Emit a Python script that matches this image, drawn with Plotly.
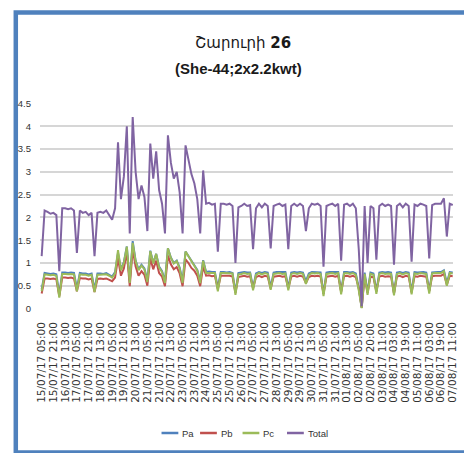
import datetime as dt
import plotly.graph_objects as go

# ---- data -------------------------------------------------------------
tick_labels = [
    "15/07/17 05:00", "15/07/17 21:00", "16/07/17 13:00", "17/07/17 05:00",
    "17/07/17 21:00", "18/07/17 13:00", "19/07/17 05:00", "19/07/17 21:00",
    "20/07/17 13:00", "21/07/17 05:00", "21/07/17 21:00", "22/07/17 13:00",
    "23/07/17 05:00", "23/07/17 21:00", "24/07/17 13:00", "25/07/17 05:00",
    "25/07/17 21:00", "26/07/17 13:00", "27/07/17 05:00", "27/07/17 21:00",
    "28/07/17 13:00", "29/07/17 05:00", "29/07/17 21:00", "30/07/17 13:00",
    "31/07/17 05:00", "31/07/17 21:00", "01/08/17 13:00", "02/08/17 05:00",
    "02/08/17 20:00", "03/08/17 11:00", "04/08/17 03:00", "04/08/17 19:00",
    "05/08/17 11:00", "06/08/17 03:00", "06/08/17 19:00", "07/08/17 11:00",
]

total = [
    1.15, 2.15, 2.12, 2.08, 2.10, 2.05, 0.82, 2.20, 2.20, 2.18,
    2.20, 2.15, 1.22, 2.15, 2.10, 2.12, 2.05, 2.10, 1.15, 2.10,
    2.12, 2.10, 2.15, 2.05, 1.95, 2.20, 3.65, 2.40, 2.90, 4.00,
    1.65, 4.20, 3.00, 2.40, 2.70, 2.45, 1.70, 3.62, 2.85, 3.45,
    2.60, 2.30, 1.65, 3.80, 3.20, 2.85, 3.00, 2.55, 1.65, 3.58,
    3.30, 2.95, 2.75, 2.40, 1.65, 3.03, 2.30, 2.32, 2.28, 2.30,
    1.25, 2.30, 2.30, 2.28, 2.30, 2.25, 1.00, 2.22, 2.25, 2.30,
    2.25, 2.27, 1.30, 2.20, 2.30, 2.22, 2.30, 2.25, 1.32, 2.25,
    2.28, 2.30, 2.25, 2.28, 1.30, 2.25, 2.30, 2.25, 2.30, 2.25,
    1.70, 2.20, 2.30, 2.28, 2.30, 2.25, 0.92, 2.25, 2.28, 2.30,
    2.25, 2.30, 1.05, 2.28, 2.30, 2.25, 2.30, 2.20, 1.30, 0.05,
    2.25, 1.00, 2.25, 2.20, 1.07, 2.25, 2.30, 2.25, 2.28, 2.25,
    0.96, 2.25, 2.30, 2.22, 2.30, 2.25, 1.03, 2.28, 2.25, 2.30,
    2.28, 2.25, 1.10, 2.27, 2.30, 2.30, 2.30, 2.42, 1.58, 2.30,
    2.27,
]

pa = [
    0.42, 0.78, 0.77, 0.76, 0.77, 0.75, 0.31, 0.79, 0.79, 0.78,
    0.79, 0.78, 0.44, 0.78, 0.77, 0.77, 0.75, 0.77, 0.42, 0.77,
    0.77, 0.76, 0.78, 0.74, 0.70, 0.80, 1.22, 0.86, 1.02, 1.36,
    0.60, 1.48, 1.05, 0.86, 0.96, 0.88, 0.62, 1.27, 1.00, 1.20,
    0.92, 0.82, 0.60, 1.32, 1.12, 1.00, 1.05, 0.90, 0.60, 1.25,
    1.15, 1.04, 0.97, 0.85, 0.60, 1.06, 0.80, 0.81, 0.80, 0.80,
    0.45, 0.80, 0.80, 0.79, 0.80, 0.78, 0.36, 0.78, 0.79, 0.80,
    0.79, 0.79, 0.46, 0.77, 0.80, 0.78, 0.80, 0.79, 0.47, 0.79,
    0.80, 0.80, 0.79, 0.80, 0.46, 0.79, 0.80, 0.79, 0.80, 0.79,
    0.60, 0.77, 0.80, 0.80, 0.80, 0.79, 0.33, 0.79, 0.80, 0.80,
    0.79, 0.80, 0.38, 0.80, 0.80, 0.79, 0.80, 0.77, 0.46, 0.02,
    0.79, 0.36, 0.79, 0.77, 0.38, 0.79, 0.80, 0.79, 0.80, 0.79,
    0.34, 0.79, 0.80, 0.78, 0.80, 0.79, 0.37, 0.80, 0.79, 0.80,
    0.80, 0.79, 0.39, 0.79, 0.80, 0.80, 0.80, 0.84, 0.56, 0.80,
    0.79,
]

pb = [
    0.33, 0.66, 0.66, 0.65, 0.66, 0.64, 0.27, 0.68, 0.68, 0.67,
    0.68, 0.66, 0.38, 0.67, 0.66, 0.66, 0.64, 0.66, 0.36, 0.65,
    0.66, 0.65, 0.66, 0.63, 0.60, 0.68, 1.10, 0.72, 0.88, 1.24,
    0.49, 1.30, 0.92, 0.72, 0.82, 0.74, 0.50, 1.10, 0.86, 1.05,
    0.78, 0.70, 0.49, 1.16, 0.97, 0.86, 0.91, 0.77, 0.49, 1.08,
    1.00, 0.89, 0.83, 0.72, 0.49, 0.92, 0.72, 0.73, 0.71, 0.72,
    0.42, 0.72, 0.72, 0.71, 0.72, 0.70, 0.34, 0.69, 0.70, 0.72,
    0.70, 0.71, 0.44, 0.69, 0.72, 0.69, 0.72, 0.70, 0.44, 0.70,
    0.71, 0.72, 0.70, 0.71, 0.44, 0.70, 0.72, 0.70, 0.72, 0.70,
    0.56, 0.69, 0.72, 0.71, 0.72, 0.70, 0.32, 0.70, 0.71, 0.72,
    0.70, 0.72, 0.36, 0.71, 0.72, 0.70, 0.72, 0.69, 0.44, 0.02,
    0.70, 0.34, 0.70, 0.69, 0.37, 0.70, 0.72, 0.70, 0.71, 0.70,
    0.33, 0.70, 0.72, 0.69, 0.72, 0.70, 0.35, 0.71, 0.70, 0.72,
    0.71, 0.70, 0.38, 0.71, 0.72, 0.72, 0.72, 0.76, 0.52, 0.72,
    0.71,
]

pc = [
    0.38, 0.75, 0.74, 0.73, 0.74, 0.72, 0.24, 0.76, 0.76, 0.75,
    0.76, 0.75, 0.38, 0.75, 0.74, 0.74, 0.72, 0.74, 0.36, 0.74,
    0.74, 0.74, 0.75, 0.72, 0.68, 0.77, 1.28, 0.84, 1.00, 1.36,
    0.56, 1.44, 1.04, 0.84, 0.94, 0.86, 0.58, 1.26, 0.99, 1.20,
    0.90, 0.80, 0.56, 1.32, 1.11, 0.99, 1.04, 0.88, 0.56, 1.25,
    1.15, 1.02, 0.95, 0.83, 0.56, 1.05, 0.78, 0.78, 0.77, 0.78,
    0.38, 0.78, 0.78, 0.78, 0.78, 0.77, 0.30, 0.75, 0.76, 0.78,
    0.76, 0.77, 0.40, 0.74, 0.78, 0.75, 0.78, 0.76, 0.41, 0.76,
    0.77, 0.78, 0.76, 0.77, 0.40, 0.76, 0.78, 0.76, 0.78, 0.76,
    0.54, 0.74, 0.78, 0.77, 0.78, 0.76, 0.27, 0.76, 0.77, 0.78,
    0.76, 0.78, 0.31, 0.77, 0.78, 0.76, 0.78, 0.74, 0.40, 0.01,
    0.76, 0.30, 0.76, 0.74, 0.32, 0.76, 0.78, 0.76, 0.77, 0.76,
    0.29, 0.76, 0.78, 0.75, 0.78, 0.76, 0.31, 0.77, 0.76, 0.78,
    0.77, 0.76, 0.33, 0.77, 0.78, 0.78, 0.78, 0.82, 0.50, 0.78,
    0.77,
]

series_names = ["Pa", "Pb", "Pc", "Total"]
series_colors = ["#4F81BD", "#C0504D", "#9BBB59", "#8064A2"]

# ---- categories: 4 samples between consecutive tick labels -------------
fmt = "%d/%m/%y %H:%M"
categories = []
for i in range(len(tick_labels) - 1):
    t0 = dt.datetime.strptime(tick_labels[i], fmt)
    categories.append(tick_labels[i])
    for k in (1, 2, 3):
        categories.append((t0 + dt.timedelta(hours=4 * k)).strftime(fmt) + " ")
categories.append(tick_labels[-1])

# ---- layout geometry (pixels) -----------------------------------------
W, H = 464, 453
L, R, T, B = 40, 6, 103, 144
PW, PH = W - L - R, H - T - B


def xp(px):
    return (px - L) / PW


def yp(py):
    return (H - B - py) / PH


fig = go.Figure()
for name, color, vals in zip(series_names, series_colors, [pa, pb, pc, total]):
    fig.add_trace(go.Scatter(
        x=categories, y=vals, mode="lines", name=name,
        line=dict(color=color, width=2), showlegend=False,
    ))

sans = "Liberation Sans, Arial, sans-serif"

fig.update_layout(
    width=W, height=H,
    margin=dict(l=L, r=R, t=T, b=B, pad=0),
    paper_bgcolor="white", plot_bgcolor="white",
    xaxis=dict(
        type="category", range=[-0.57, 140.1],
        tickmode="array", tickvals=tick_labels, ticktext=tick_labels,
        tickangle=-90, showgrid=False, zeroline=False, showline=False,
        ticks="", ticklabelstandoff=10,
        tickfont=dict(family="DejaVu Sans", size=10.5, color="#333333"),
    ),
    yaxis=dict(
        range=[-0.01, 4.51], tickmode="array",
        tickvals=[0, 0.5, 1, 1.5, 2, 2.5, 3, 3.5, 4, 4.5],
        ticktext=["0", "0.5", "1", "1.5", "2", "2.5", "3", "3.5", "4", "4.5"],
        showgrid=True, gridcolor="#D6D6D6", gridwidth=1.6,
        zeroline=False, showline=False, ticks="", ticklabelstandoff=8,
        tickfont=dict(family=sans, size=9.5, color="#333333"),
    ),
)

# frame
fig.add_shape(type="rect", xref="paper", yref="paper",
              x0=xp(15.5), x1=xp(472), y0=yp(12.5), y1=yp(452.5),
              line=dict(color="#4F81BD", width=4.5), layer="below")

# titles
fig.add_annotation(text="Շարուրի <b>26</b>", xref="paper", yref="paper",
                   x=xp(245), y=yp(43), xanchor="center", yanchor="middle",
                   showarrow=False,
                   font=dict(family="DejaVu Sans", size=15, color="#1a1a1a"))
fig.add_annotation(text="<b>(She-44;2x2.2kwt)</b>", xref="paper", yref="paper",
                   x=xp(241), y=yp(68), xanchor="center", yanchor="middle",
                   showarrow=False,
                   font=dict(family=sans, size=15, color="#1a1a1a"))

# legend (drawn manually to match compact Excel legend)
legend_x = [163, 202, 245, 290]
for name, color, x0 in zip(series_names, series_colors, legend_x):
    fig.add_shape(type="line", xref="paper", yref="paper",
                  x0=xp(x0), x1=xp(x0 + 17), y0=yp(433), y1=yp(433),
                  line=dict(color=color, width=2.5))
    fig.add_annotation(text=name, xref="paper", yref="paper",
                       x=xp(x0 + 19), y=yp(433), xanchor="left", yanchor="middle",
                       showarrow=False,
                       font=dict(family=sans, size=9.5, color="#333333"))

fig.write_html("out.html", config={"displayModeBar": False},
               post_script="document.body.style.margin='0';")
